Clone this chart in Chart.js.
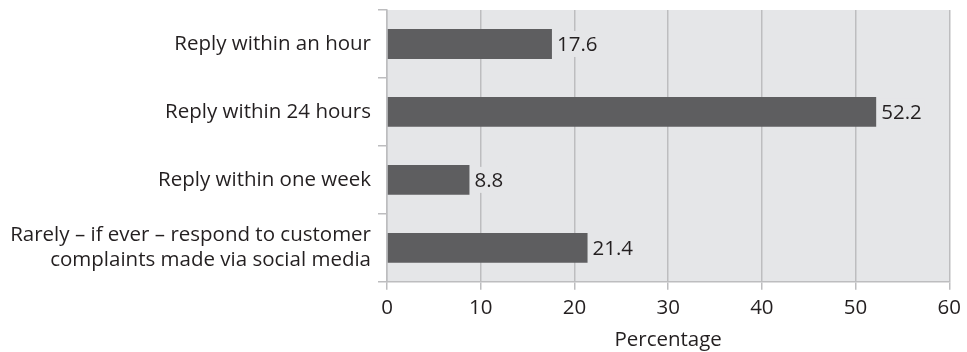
<!DOCTYPE html>
<html lang="en">
<head>
    <meta charset="UTF-8">
    <title>Response time to customer complaints</title>
    <script src="https://cdn.jsdelivr.net/npm/chart.js"></script>
    <style>
        html, body { margin: 0; padding: 0; background: #fff; }
        .chart-container { width: 967px; height: 352px; position: relative; }
    </style>
</head>
<body>
    <div class="chart-container">
        <canvas id="responseChart"></canvas>
    </div>

    <script>
        const categories = [
            'Reply within an hour',
            'Reply within 24 hours',
            'Reply within one week',
            ['Rarely \u2013 if ever \u2013 respond to customer', 'complaints made via social media']
        ];
        const percentages = [17.6, 52.2, 8.8, 21.4];
        const xTicks = [0, 10, 20, 30, 40, 50, 60];

        const plotBg = '#e5e6e8';
        const textColor = '#231f20';
        const fontFamily = '"Open Sans", Lato, sans-serif';
        const fontSize = 20.5;

        // grey plot background behind the bars
        const plotBackground = {
            id: 'plotBackground',
            beforeDraw(chart) {
                const { ctx, chartArea: a } = chart;
                ctx.save();
                ctx.fillStyle = plotBg;
                ctx.fillRect(a.left, a.top, a.right - a.left, a.bottom - a.top);
                ctx.restore();
            }
        };

        // value labels at the end of each bar
        const barValues = {
            id: 'barValues',
            afterDatasetsDraw(chart) {
                const { ctx } = chart;
                const meta = chart.getDatasetMeta(0);
                ctx.save();
                ctx.font = fontSize + 'px ' + fontFamily;
                ctx.textBaseline = 'middle';
                meta.data.forEach((bar, i) => {
                    const txt = percentages[i].toFixed(1);
                    const w = ctx.measureText(txt).width;
                    const x = bar.x + 5;
                    ctx.fillStyle = plotBg;
                    ctx.fillRect(x - 3, bar.y - 13, w + 6, 26);
                    ctx.fillStyle = textColor;
                    ctx.fillText(txt, x, bar.y + 1);
                });
                ctx.restore();
            }
        };

        new Chart(document.getElementById('responseChart'), {
            type: 'bar',
            data: {
                labels: categories,
                datasets: [{
                    data: percentages,
                    backgroundColor: '#5e5e60',
                    barPercentage: 0.55,
                    categoryPercentage: 0.8
                }]
            },
            options: {
                indexAxis: 'y',
                responsive: true,
                maintainAspectRatio: false,
                animation: false,
                layout: { padding: { top: 10, right: 14, bottom: 0, left: 0 } },
                plugins: {
                    legend: { display: false },
                    tooltip: { enabled: false }
                },
                scales: {
                    x: {
                        min: 0,
                        max: 60,
                        afterBuildTicks(scale) {
                            scale.ticks = xTicks.map(v => ({ value: v }));
                        },
                        grid: {
                            color: '#bdbdbf',
                            lineWidth: 1.5,
                            tickLength: 8,
                            drawOnChartArea: true
                        },
                        border: { color: '#bdbdbf', width: 1.5 },
                        ticks: {
                            color: textColor,
                            font: { family: fontFamily, size: fontSize },
                            padding: 6
                        },
                        title: {
                            display: true,
                            text: 'Percentage',
                            color: textColor,
                            font: { family: fontFamily, size: fontSize },
                            padding: { top: 1, bottom: 0 }
                        }
                    },
                    y: {
                        afterFit(scale) {
                            scale.width = 387;
                            scale.paddingTop = 0;
                            scale.paddingBottom = 0;
                        },
                        grid: {
                            offset: true,
                            drawOnChartArea: false,
                            color: '#bdbdbf',
                            lineWidth: 1.5,
                            tickLength: 9
                        },
                        border: { color: '#bdbdbf', width: 1.5 },
                        ticks: {
                            color: textColor,
                            font: { family: fontFamily, size: fontSize },
                            padding: 7
                        }
                    }
                }
            },
            plugins: [plotBackground, barValues]
        });
    </script>
</body>
</html>
